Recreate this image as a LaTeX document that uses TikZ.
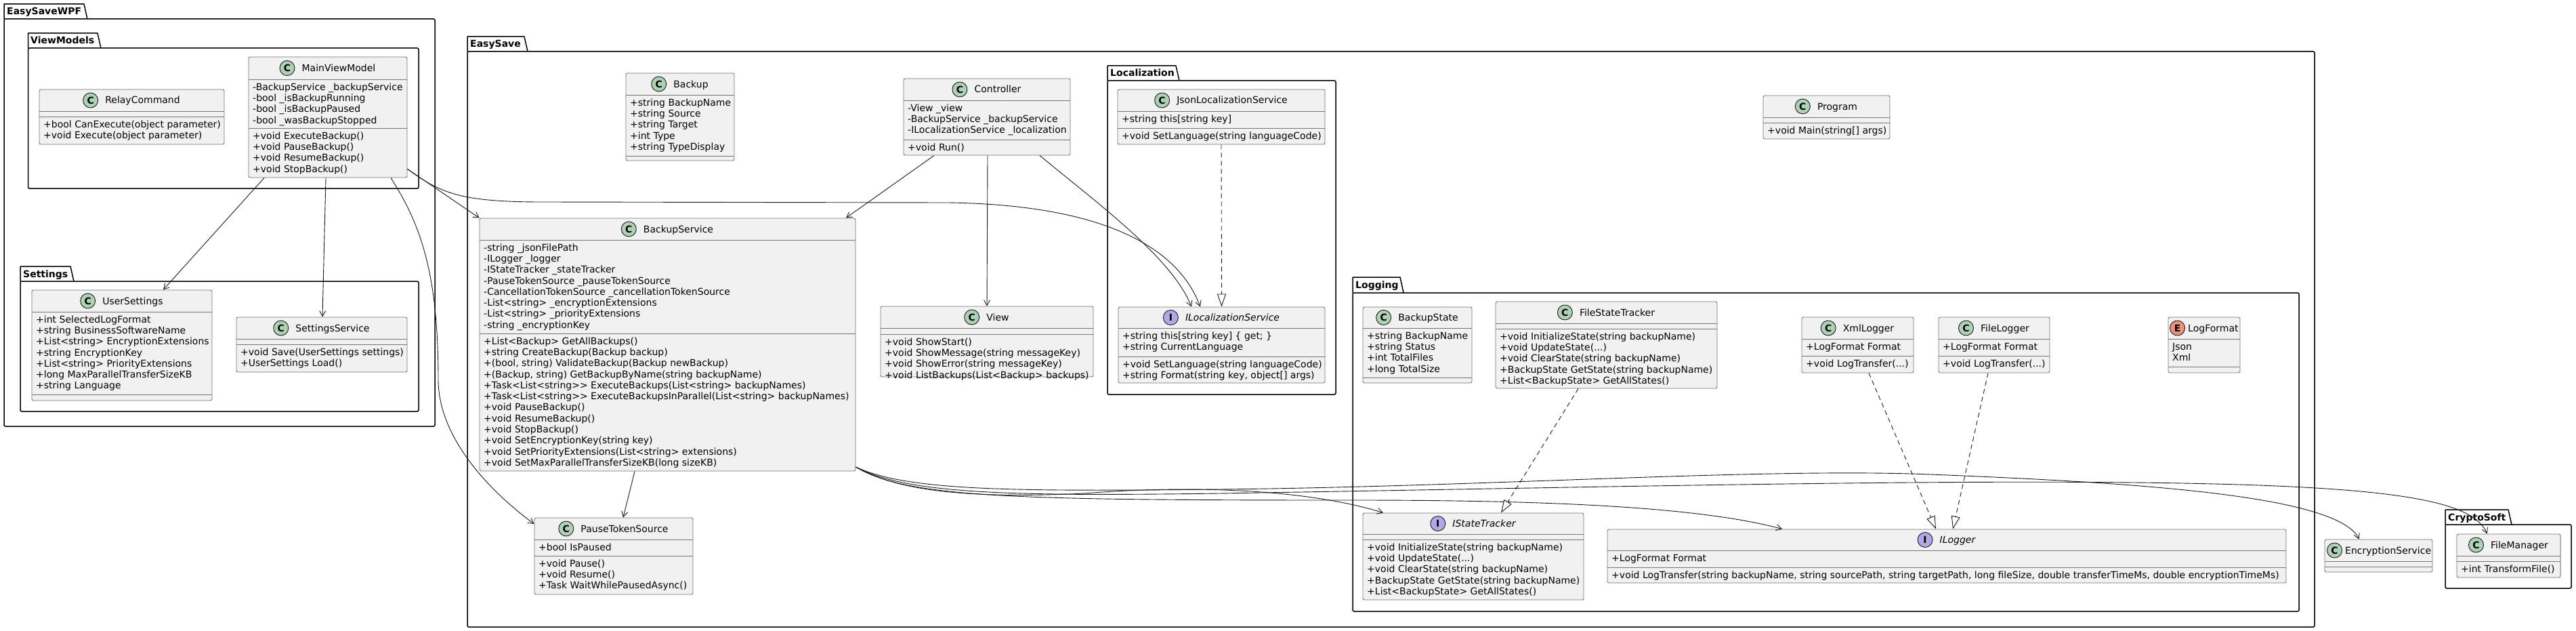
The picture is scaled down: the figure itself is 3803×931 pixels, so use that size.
\documentclass[tikz,border=0pt]{standalone}
\usepackage{fontspec}
\setmainfont{DejaVu Sans}
\usepackage{tikz}
\usetikzlibrary{arrows.meta, positioning}
\definecolor{umlfill}{HTML}{F1F1F1}
\definecolor{spotclass}{HTML}{ADD1B2}
\definecolor{spotiface}{HTML}{B4A7E5}
\definecolor{spotenum}{HTML}{EB937F}
\definecolor{umlline}{HTML}{181818}
\newcommand{\umlfont}{\fontsize{14}{16.3}\selectfont}

\begin{document}
\begin{tikzpicture}[x=1pt,y=1pt,yscale=-1,
  classbox/.style={draw=black!55, fill=umlfill, rounded corners=2.5pt, line width=0.9pt, inner sep=0pt},
  cname/.style={inner sep=0pt, text height=10pt, text depth=0pt, font=\umlfont},
  cspot/.style={circle, draw=umlline, line width=0.9pt, fill=spotclass, minimum size=22pt, inner sep=0pt, font=\bfseries\fontsize{14}{14}\selectfont, left=10pt of #1},
  ispot/.style={cspot=#1, fill=spotiface},
  espot/.style={cspot=#1, fill=spotenum},
  members/.style={anchor=north west, inner sep=0pt, align=left, font=\umlfont},
  sepline/.style={draw=black!55, line width=0.9pt},
  pkgline/.style={draw=black, line width=1.5pt, line join=round},
  pkgbody/.style={draw=black, line width=1.5pt, rounded corners=2pt, inner sep=0pt},
  pkgtitle/.style={anchor=west, inner sep=0pt, text height=10pt, text depth=0pt, font=\bfseries\umlfont},
  uses/.style={draw=umlline, line width=0.9pt, -{Straight Barb[length=8pt, width=9pt]}},
  realizes/.style={draw=umlline, line width=0.9pt, dash pattern=on 7pt off 5pt, -{Triangle[length=19pt, width=13pt, fill=white]}}]
\useasboundingbox (0,0) rectangle (3803,931);

%Packages
\draw[pkgline] (6,28) -- (6,6) -- (124,6) -- (129,28);
\node[pkgbody, minimum width=636pt, minimum height=601pt] (wpf) at (324,328.5) {};
\node[pkgtitle] (wpf-title) at (10,17) {EasySaveWPF};
\draw[pkgline] (41.5,71) -- (41.5,49) -- (144,49) -- (149,71);
\node[pkgbody, minimum width=576.5pt, minimum height=207pt] (vm) at (329.75,174.5) {};
\node[pkgtitle] (vm-title) at (45,60) {ViewModels};
\draw[pkgline] (30,415) -- (30,393) -- (104,393) -- (109,415);
\node[pkgbody, minimum width=588pt, minimum height=192pt] (set) at (324,511) {};
\node[pkgtitle] (set-title) at (34,404) {Settings};
\draw[pkgline] (690,76) -- (690,54) -- (774,54) -- (779,76);
\node[pkgbody, minimum width=2727pt, minimum height=849pt] (es) at (2053.5,500.5) {};
\node[pkgtitle] (es-title) at (694,65) {EasySave};
\draw[pkgline] (1635,119) -- (1635,97) -- (1736,97) -- (1741,119);
\node[pkgbody, minimum width=337pt, minimum height=463pt] (loc) at (1803.5,350.5) {};
\node[pkgtitle] (loc-title) at (1639,108) {Localization};
\draw[pkgline] (1997,432) -- (1997,409) -- (2067,409) -- (2072,432);
\node[pkgbody, minimum width=1397pt, minimum height=470pt] (log) at (2695.5,667) {};
\node[pkgtitle] (log-title) at (2001,420.5) {Logging};
\draw[pkgline] (3610,774) -- (3610,752) -- (3703,752) -- (3708,774);
\node[pkgbody, minimum width=186pt, minimum height=94pt] (cs) at (3703,821) {};
\node[pkgtitle] (cs-title) at (3614,763) {CryptoSoft};

%Class RelayCommand
\node[classbox, minimum width=273pt, minimum height=81pt] (rc) at (194.5,172.5) {};
\node[cname] (rc-name) at (210.5,148) {RelayCommand};
\node[cspot=rc-name] (rc-spot) {C};
\draw[sepline] (58,164) -- (331,164);
\draw[sepline] (58,172) -- (331,172);
\node[members] (rc-ops) at (64,176.5) {\strut+bool CanExecute(object parameter)\\+void Execute(object parameter)};

%Class MainViewModel
\node[classbox, minimum width=234pt, minimum height=178pt] (mvm) at (484,173) {};
\node[cname] (mvm-name) at (500,100.5) {MainViewModel};
\node[cspot=mvm-name] (mvm-spot) {C};
\draw[sepline] (367,117) -- (601,117);
\draw[sepline] (367,189) -- (601,189);
\node[members] (mvm-attrs) at (373,121.5) {\strut-BackupService \_backupService\\-bool \_isBackupRunning\\-bool \_isBackupPaused\\-bool \_wasBackupStopped};
\node[members] (mvm-ops) at (373,193.5) {\strut+void ExecuteBackup()\\+void PauseBackup()\\+void ResumeBackup()\\+void StopBackup()};

%Class UserSettings
\node[classbox, minimum width=266pt, minimum height=163pt] (us) at (180,509.5) {};
\node[cname] (us-name) at (196,444) {UserSettings};
\node[cspot=us-name] (us-spot) {C};
\draw[sepline] (47,460) -- (313,460);
\draw[sepline] (47,582) -- (313,582);
\node[members] (us-attrs) at (53,464.5) {\strut+int SelectedLogFormat\\+string BusinessSoftwareName\\+List<string> EncryptionExtensions\\+string EncryptionKey\\+List<string> PriorityExtensions\\+long MaxParallelTransferSizeKB\\+string Language};

%Class SettingsService
\node[classbox, minimum width=252pt, minimum height=81pt] (ss) at (475,508.5) {};
\node[cname] (ss-name) at (491,484) {SettingsService};
\node[cspot=ss-name] (ss-spot) {C};
\draw[sepline] (349,500) -- (601,500);
\draw[sepline] (349,508) -- (601,508);
\node[members] (ss-ops) at (355,512.5) {\strut+void Save(UserSettings settings)\\+UserSettings Load()};

%Class Backup
\node[classbox, minimum width=160pt, minimum height=129pt] (bk) at (1004,172.5) {};
\node[cname] (bk-name) at (1020,124) {Backup};
\node[cspot=bk-name] (bk-spot) {C};
\draw[sepline] (924,140) -- (1084,140);
\draw[sepline] (924,230) -- (1084,230);
\node[members] (bk-attrs) at (930,144.5) {\strut+string BackupName\\+string Source\\+string Target\\+int Type\\+string TypeDisplay};

%Class Controller
\node[classbox, minimum width=246pt, minimum height=113pt] (ctl) at (1457,172.5) {};
\node[cname] (ctl-name) at (1473,132) {Controller};
\node[cspot=ctl-name] (ctl-spot) {C};
\draw[sepline] (1334,148) -- (1580,148);
\draw[sepline] (1334,206) -- (1580,206);
\node[members] (ctl-attrs) at (1340,152.5) {\strut-View \_view\\-BackupService \_backupService\\-ILocalizationService \_localization};
\node[members] (ctl-ops) at (1340,210.5) {\strut+void Run()};

%Class BackupService
\node[classbox, minimum width=555pt, minimum height=373pt] (bs) at (985.5,508.5) {};
\node[cname] (bs-name) at (1001.5,338) {BackupService};
\node[cspot=bs-name] (bs-spot) {C};
\draw[sepline] (708,354) -- (1263,354);
\draw[sepline] (708,492) -- (1263,492);
\node[members] (bs-attrs) at (714,358.5) {\strut-string \_jsonFilePath\\-ILogger \_logger\\-IStateTracker \_stateTracker\\-PauseTokenSource \_pauseTokenSource\\-CancellationTokenSource \_cancellationTokenSource\\-List<string> \_encryptionExtensions\\-List<string> \_priorityExtensions\\-string \_encryptionKey};
\node[members] (bs-ops) at (714,496.5) {\strut+List<Backup> GetAllBackups()\\+string CreateBackup(Backup backup)\\+(bool, string) ValidateBackup(Backup newBackup)\\+(Backup, string) GetBackupByName(string backupName)\\+Task<List<string>{}> ExecuteBackups(List<string> backupNames)\\+Task<List<string>{}> ExecuteBackupsInParallel(List<string> backupNames)\\+void PauseBackup()\\+void ResumeBackup()\\+void StopBackup()\\+void SetEncryptionKey(string key)\\+void SetPriorityExtensions(List<string> extensions)\\+void SetMaxParallelTransferSizeKB(long sizeKB)};

%Class View
\node[classbox, minimum width=314pt, minimum height=104pt] (view) at (1457,504) {};
\node[cname] (view-name) at (1473,468) {View};
\node[cspot=view-name] (view-spot) {C};
\draw[sepline] (1300,484) -- (1614,484);
\draw[sepline] (1300,493) -- (1614,493);
\node[members] (view-ops) at (1306,497.5) {\strut+void ShowStart()\\+void ShowMessage(string messageKey)\\+void ShowError(string messageKey)\\+void ListBackups(List<Backup> backups)};

%Class PauseTokenSource
\node[classbox, minimum width=234pt, minimum height=113pt] (pts) at (906,820.5) {};
\node[cname] (pts-name) at (922,780) {PauseTokenSource};
\node[cspot=pts-name] (pts-spot) {C};
\draw[sepline] (789,796) -- (1023,796);
\draw[sepline] (789,820) -- (1023,820);
\node[members] (pts-attrs) at (795,800.5) {\strut+bool IsPaused};
\node[members] (pts-ops) at (795,824.5) {\strut+void Pause()\\+void Resume()\\+Task WaitWhilePausedAsync()};

%Class JsonLocalizationService
\node[classbox, minimum width=306pt, minimum height=81pt] (jls) at (1803,172.5) {};
\node[cname] (jls-name) at (1819,148) {JsonLocalizationService};
\node[cspot=jls-name] (jls-spot) {C};
\draw[sepline] (1650,164) -- (1956,164);
\draw[sepline] (1650,189) -- (1956,189);
\node[members] (jls-attrs) at (1656,168.5) {\strut+string this[string key]};
\node[members] (jls-ops) at (1656,193.5) {\strut+void SetLanguage(string languageCode)};

%Interface ILocalizationService
\node[classbox, minimum width=305pt, minimum height=112pt] (ils) at (1803.5,509) {};
\node[cname, font=\umlfont\itshape] (ils-name) at (1819.5,468.5) {ILocalizationService};
\node[ispot=ils-name] (ils-spot) {I};
\draw[sepline] (1651,484) -- (1956,484);
\draw[sepline] (1651,526) -- (1956,526);
\node[members] (ils-attrs) at (1657,488.5) {\strut+string this[string key] \{ get; \}\\+string CurrentLanguage};
\node[members] (ils-ops) at (1657,530.5) {\strut+void SetLanguage(string languageCode)\\+string Format(string key, object[] args)};

%Class Program
\node[classbox, minimum width=187pt, minimum height=64pt] (prog) at (2696.5,173) {};
\node[cname] (prog-name) at (2712.5,157) {Program};
\node[cspot=prog-name] (prog-spot) {C};
\draw[sepline] (2603,173) -- (2790,173);
\draw[sepline] (2603,181) -- (2790,181);
\node[members] (prog-ops) at (2609,185.5) {\strut+void Main(string[] args)};

%Class BackupState
\node[classbox, minimum width=161pt, minimum height=112pt] (bst) at (2092.5,509) {};
\node[cname] (bst-name) at (2108.5,468.5) {BackupState};
\node[cspot=bst-name] (bst-spot) {C};
\draw[sepline] (2012,484) -- (2173,484);
\draw[sepline] (2012,557) -- (2173,557);
\node[members] (bst-attrs) at (2018,488.5) {\strut+string BackupName\\+string Status\\+int TotalFiles\\+long TotalSize};

%Class FileStateTracker
\node[classbox, minimum width=327pt, minimum height=128pt] (fst) at (2371.5,509) {};
\node[cname] (fst-name) at (2387.5,461) {FileStateTracker};
\node[cspot=fst-name] (fst-spot) {C};
\draw[sepline] (2208,477) -- (2535,477);
\draw[sepline] (2208,485) -- (2535,485);
\node[members] (fst-ops) at (2214,489.5) {\strut+void InitializeState(string backupName)\\+void UpdateState(...)\\+void ClearState(string backupName)\\+BackupState GetState(string backupName)\\+List<BackupState> GetAllStates()};

%Class XmlLogger
\node[classbox, minimum width=165pt, minimum height=82pt] (xml) at (2742.5,509) {};
\node[cname] (xml-name) at (2758.5,484) {XmlLogger};
\node[cspot=xml-name] (xml-spot) {C};
\draw[sepline] (2660,500) -- (2825,500);
\draw[sepline] (2660,525) -- (2825,525);
\node[members] (xml-attrs) at (2666,504.5) {\strut+LogFormat Format};
\node[members] (xml-ops) at (2666,529.5) {\strut+void LogTransfer(...)};

%Class FileLogger
\node[classbox, minimum width=164pt, minimum height=82pt] (flog) at (2944,509) {};
\node[cname] (flog-name) at (2960,484) {FileLogger};
\node[cspot=flog-name] (flog-spot) {C};
\draw[sepline] (2862,500) -- (3026,500);
\draw[sepline] (2862,525) -- (3026,525);
\node[members] (flog-attrs) at (2868,504.5) {\strut+LogFormat Format};
\node[members] (flog-ops) at (2868,529.5) {\strut+void LogTransfer(...)};

%Enum LogFormat
\node[classbox, minimum width=106pt, minimum height=82pt] (lf) at (3254,509) {};
\node[cname, anchor=west] (lf-name) at (3230,484) {LogFormat};
\node[espot=lf-name, left=4pt of lf-name] (lf-spot) {E};
\draw[sepline] (3201,500) -- (3307,500);
\draw[sepline] (3201,541) -- (3307,541);
\node[members] (lf-vals) at (3207,504.5) {\strut Json\\Xml};

%Interface IStateTracker
\node[classbox, minimum width=326pt, minimum height=128pt] (ist) at (2175,821) {};
\node[cname, font=\umlfont\itshape] (ist-name) at (2191,772.5) {IStateTracker};
\node[ispot=ist-name] (ist-spot) {I};
\draw[sepline] (2012,788) -- (2338,788);
\draw[sepline] (2012,796) -- (2338,796);
\node[members] (ist-ops) at (2018,800.5) {\strut+void InitializeState(string backupName)\\+void UpdateState(...)\\+void ClearState(string backupName)\\+BackupState GetState(string backupName)\\+List<BackupState> GetAllStates()};

%Interface ILogger
\node[classbox, minimum width=1002pt, minimum height=79pt] (ilog) at (2874,820.5) {};
\node[cname, font=\umlfont\itshape] (ilog-name) at (2890,796.5) {ILogger};
\node[ispot=ilog-name] (ilog-spot) {I};
\draw[sepline] (2373,812) -- (3375,812);
\draw[sepline] (2373,837) -- (3375,837);
\node[members] (ilog-attrs) at (2379,816.5) {\strut+LogFormat Format};
\node[members] (ilog-ops) at (2379,841.5) {\strut+void LogTransfer(string backupName, string sourcePath, string targetPath, long fileSize, double transferTimeMs, double encryptionTimeMs)};

%Class EncryptionService
\node[classbox, minimum width=159pt, minimum height=48pt] (enc) at (3511.5,820) {};
\node[cname, anchor=west] (enc-name) at (3462,812) {EncryptionService};
\node[cspot=enc-name, left=4pt of enc-name] (enc-spot) {C};
\draw[sepline] (3432,828) -- (3591,828);
\draw[sepline] (3432,836) -- (3591,836);

%Class FileManager
\node[classbox, minimum width=153pt, minimum height=64pt] (fm) at (3703.5,820) {};
\node[cname] (fm-name) at (3719.5,804) {FileManager};
\node[cspot=fm-name] (fm-spot) {C};
\draw[sepline] (3627,820) -- (3780,820);
\draw[sepline] (3627,828) -- (3780,828);
\node[members] (fm-ops) at (3633,832.5) {\strut+int TransformFile()};

%Associations
\draw[uses] ([xshift=-94pt]mvm.south) -- ([xshift=61pt]us.north);
\draw[uses] ([xshift=-3pt]mvm.south) -- ([xshift=1pt]ss.north);
\draw[uses] ([xshift=93pt]mvm.south) .. controls (620,330) and (647,400) .. (647,560) .. controls (647,650) and (730,730) .. (pts.158);
\draw[uses] (mvm.-33) -- (bs.north west);
\draw[uses] (mvm.-33) .. controls (650,285) and (680,298) .. (800,298) -- (1400,299) .. controls (1610,302) and (1735,355) .. ([xshift=-31.5pt]ils.north);
\draw[uses] ([xshift=-78pt]ctl.south) -- ([xshift=263.5pt]bs.north);
\draw[uses] ([xshift=1pt]ctl.south) -- (view.north);
\draw[uses] ([xshift=78pt]ctl.south) .. controls (1620,300) and (1730,380) .. ([xshift=-44.5pt]ils.north);
\draw[uses] ([xshift=-48.5pt]bs.south) -- ([xshift=14pt]pts.north);
\draw[uses] (bs.-33) .. controls (1330,728) and (1450,735) .. (1600,728) .. controls (1780,714) and (1940,725) .. ([xshift=-133pt]ist.north);
\draw[uses] (bs.-33) .. controls (1340,735) and (1500,738) .. (2000,738) .. controls (2250,738) and (2500,745) .. ([xshift=-243pt]ilog.north);
\draw[uses] (bs.-33) .. controls (1340,725) and (1500,725) .. (1800,722) .. controls (2200,718) and (2600,690) .. (2850,700) .. controls (3150,712) and (3450,730) .. ([xshift=-28.5pt]enc.north);
\draw[uses] (bs.-33) .. controls (1340,730) and (1500,732) .. (1800,728) .. controls (2300,720) and (2800,708) .. (3150,712) .. controls (3550,716) and (3650,740) .. ([xshift=-31.5pt]fm.north);

%Realizations
\draw[realizes] (jls.south) -- (ils.north);
\draw[realizes] ([xshift=-41.5pt]fst.south) -- ([xshift=41pt]ist.north);
\draw[realizes] ([xshift=16.5pt]xml.south) -- ([xshift=-16pt]ilog.north);
\draw[realizes] ([xshift=-9pt]flog.south) -- ([xshift=9pt]ilog.north);

\end{tikzpicture}
\end{document}
